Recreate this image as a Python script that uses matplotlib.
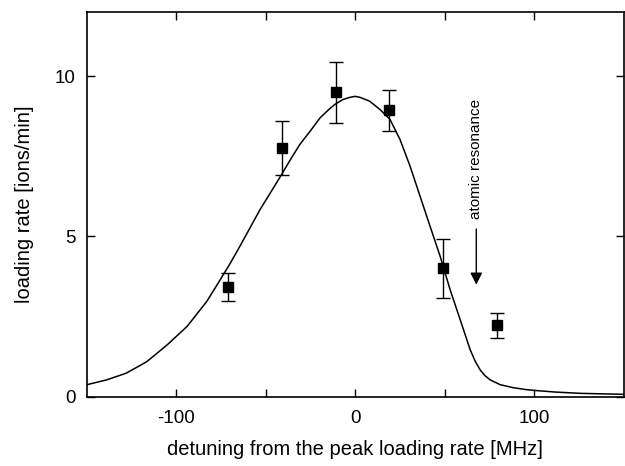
import matplotlib
matplotlib.use("Agg")
import matplotlib.pyplot as plt

# measured points
detuning = [-71, -41, -11, 19, 49, 79]
rate = [3.42, 7.76, 9.50, 8.93, 4.00, 2.22]
rate_err = [0.45, 0.83, 0.95, 0.65, 0.92, 0.40]

# fit curve
fit_x = [-150, -139, -128, -116.5, -105, -100, -94, -83, -76, -70, -64.5, -59,
         -53.3, -47, -41.2, -36, -31, -25, -19.7, -15, -11.4, -7, -3, 0, 2.6,
         8, 13.8, 19.4, 25, 30.6, 36.2, 41.8, 47.4, 53, 58.6, 64.2, 67, 69.8,
         72.5, 75.4, 81, 88, 95, 100.5, 112, 126, 150]
fit_y = [0.37, 0.52, 0.73, 1.09, 1.62, 1.88, 2.19, 2.97, 3.60, 4.15, 4.69, 5.25,
         5.83, 6.40, 6.93, 7.42, 7.87, 8.30, 8.70, 8.95, 9.12, 9.27, 9.34, 9.37,
         9.34, 9.22, 8.96, 8.65, 8.02, 7.19, 6.25, 5.31, 4.38, 3.33, 2.40, 1.46,
         1.10, 0.83, 0.65, 0.52, 0.37, 0.28, 0.22, 0.19, 0.14, 0.10, 0.07]

resonance = 67.6

plt.rcParams["font.family"] = ["Liberation Sans", "DejaVu Sans"]
plt.rcParams["axes.unicode_minus"] = False

fig = plt.figure(figsize=(6.25, 4.66), dpi=100)
ax = fig.add_axes([0.139, 0.149, 0.859, 0.825])

ax.plot(fit_x, fit_y, color="black", lw=1.1, solid_joinstyle="round")
ax.errorbar(detuning, rate, yerr=rate_err, fmt="s", color="black",
            ms=7.3, capsize=5, elinewidth=1, capthick=1)

ax.annotate("", xy=(resonance, 3.49), xytext=(resonance, 5.23),
            arrowprops=dict(arrowstyle="-|>", color="black", lw=1,
                            mutation_scale=18, shrinkA=0, shrinkB=0))
ax.text(resonance, 7.43, "atomic resonance", rotation=90, ha="center",
        va="center", fontsize=11)

ax.set_xlim(-150, 150)
ax.set_ylim(0, 12)
ax.set_xticks([-100, 0, 100])
ax.set_xticks([-50, 50], minor=True)
ax.set_yticks([0, 5, 10])
ax.tick_params(which="both", direction="in", top=True, right=True,
               length=6, width=1, labelsize=13.5)
ax.tick_params(axis="x", pad=10)
ax.tick_params(axis="y", pad=8)
for s in ax.spines.values():
    s.set_linewidth(1.2)

ax.set_xlabel("detuning from the peak loading rate [MHz]", fontsize=14.5,
              labelpad=9)
ax.set_ylabel("loading rate [ions/min]", fontsize=14.5, labelpad=15)

fig.savefig("out.png", dpi=100)
